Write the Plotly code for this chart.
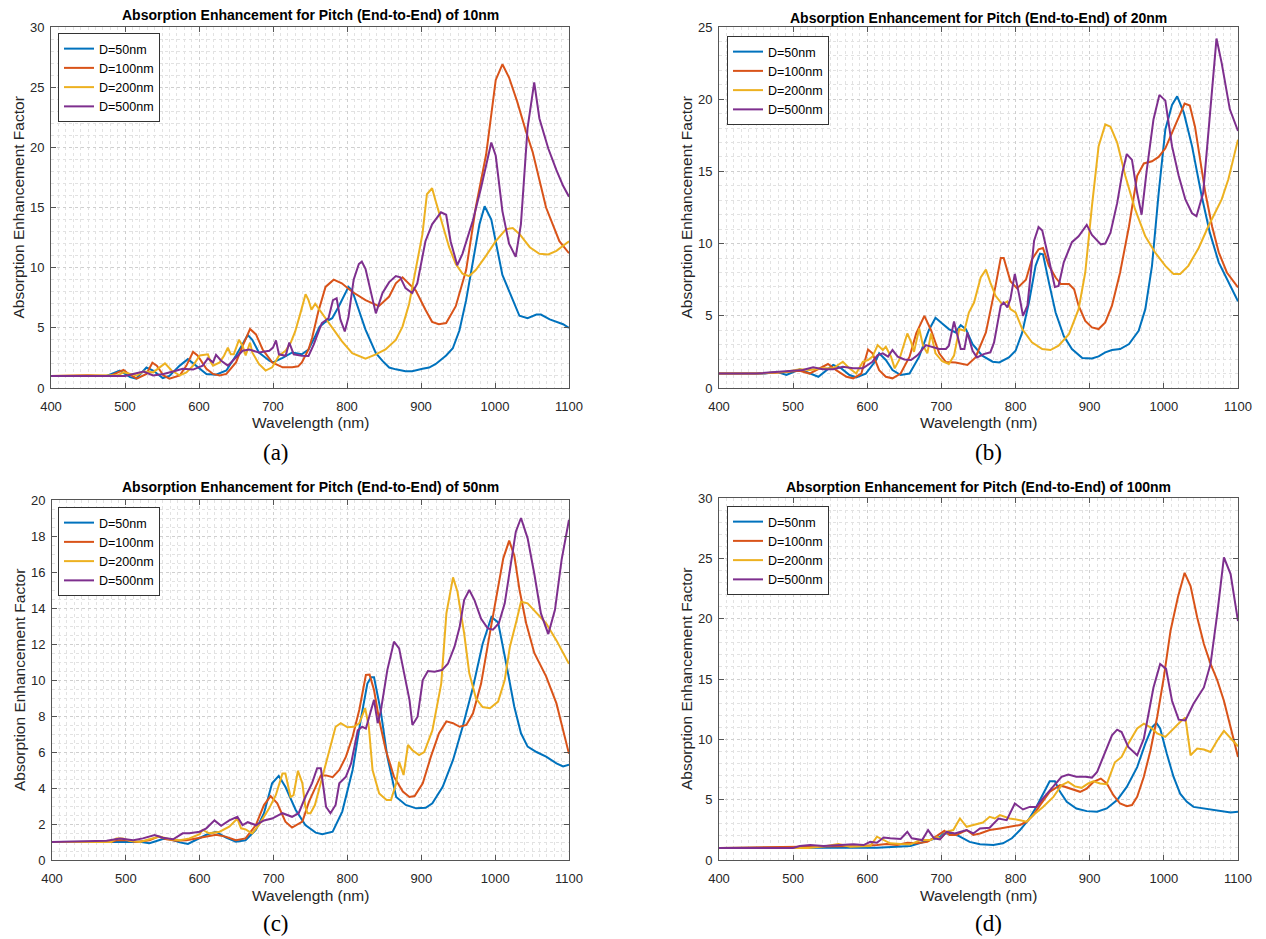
import plotly.graph_objects as go

W, H = 1266, 939

# ---------------- data: (a) pitch 10nm ----------------
A50_WL = [400, 450, 475, 493, 507, 515, 529, 538, 551, 560, 574, 585, 596, 610, 623, 637, 650, 659, 666, 672, 681, 695, 700, 713, 726, 739, 748, 757, 763, 771, 780, 789, 798, 802, 807, 816, 825, 839, 848, 857, 866, 879, 888, 902, 911, 920, 934, 943, 952, 961, 970, 979, 986, 995, 1010, 1024, 1033, 1044, 1056, 1062, 1074, 1092, 1100]
A50_VAL = [1.0, 1.0, 1.0, 1.45, 0.9, 0.77, 1.7, 1.45, 0.82, 1.0, 1.86, 2.4, 1.86, 1.17, 1.1, 1.45, 2.7, 3.6, 4.4, 4.0, 2.95, 2.27, 2.13, 2.5, 2.95, 2.8, 3.2, 4.3, 5.1, 5.5, 5.8, 6.8, 7.9, 8.4, 8.1, 6.5, 4.85, 2.9, 2.25, 1.7, 1.55, 1.4, 1.4, 1.6, 1.7, 2.0, 2.7, 3.3, 4.8, 7.3, 10.3, 13.6, 15.1, 14.0, 9.4, 7.3, 6.0, 5.8, 6.1, 6.1, 5.7, 5.3, 5.0]

A100_WL = [400, 450, 480, 498, 505, 516, 529, 537, 543, 552, 560, 574, 583, 592, 598, 610, 619, 628, 637, 650, 659, 669, 677, 686, 699, 713, 726, 734, 739, 748, 753, 761, 771, 782, 793, 807, 825, 843, 857, 866, 875, 893, 906, 915, 924, 934, 947, 961, 974, 988, 1001, 1010, 1019, 1030, 1042, 1051, 1069, 1087, 1100]
A100_VAL = [1.0, 1.05, 1.0, 1.5, 1.17, 0.77, 1.17, 2.1, 1.86, 1.04, 0.77, 1.04, 1.86, 3.0, 2.7, 1.6, 1.17, 1.04, 1.17, 2.13, 3.5, 4.9, 4.45, 3.2, 2.13, 1.72, 1.72, 1.8, 2.13, 3.2, 4.2, 6.3, 8.4, 9.0, 8.7, 8.0, 7.3, 6.8, 7.6, 8.7, 9.2, 8.1, 6.5, 5.5, 5.3, 5.4, 6.8, 9.8, 15.0, 19.4, 25.6, 26.9, 25.8, 23.8, 21.3, 19.6, 15.0, 12.2, 11.2]

A200_WL = [400, 450, 490, 498, 516, 525, 538, 554, 563, 574, 583, 592, 601, 612, 616, 619, 628, 634, 639, 643, 647, 654, 659, 663, 669, 672, 681, 690, 699, 708, 717, 724, 730, 737, 744, 748, 752, 757, 766, 780, 793, 807, 825, 839, 852, 866, 875, 884, 893, 902, 908, 915, 920, 929, 938, 947, 956, 965, 974, 988, 1001, 1015, 1024, 1033, 1047, 1060, 1072, 1083, 1100]
A200_VAL = [1.0, 1.0, 1.05, 1.3, 1.04, 1.37, 1.3, 2.05, 1.45, 1.04, 1.3, 1.86, 2.7, 2.8, 2.13, 1.86, 2.13, 2.7, 3.36, 2.8, 2.8, 4.0, 3.5, 2.7, 3.77, 2.95, 2.0, 1.45, 1.72, 2.68, 3.1, 3.77, 4.7, 6.2, 7.8, 7.3, 6.5, 7.0, 6.2, 5.0, 3.9, 2.9, 2.44, 2.8, 3.2, 4.0, 5.1, 7.0, 9.8, 12.8, 16.1, 16.6, 15.5, 13.6, 11.7, 10.3, 9.5, 9.3, 9.8, 11.0, 12.2, 13.2, 13.3, 12.8, 11.7, 11.15, 11.1, 11.4, 12.2]

A500_WL = [400, 450, 500, 511, 525, 538, 552, 565, 578, 592, 605, 612, 619, 623, 630, 639, 650, 659, 668, 681, 695, 700, 704, 708, 717, 722, 728, 739, 748, 755, 766, 775, 781, 786, 791, 797, 802, 809, 816, 820, 825, 832, 839, 848, 857, 866, 872, 879, 888, 895, 906, 915, 927, 934, 940, 949, 956, 970, 981, 995, 1001, 1010, 1019, 1028, 1035, 1044, 1053, 1060, 1072, 1083, 1092, 1100]
A500_VAL = [1.0, 1.0, 1.0, 1.17, 1.37, 1.04, 1.17, 1.37, 1.6, 1.53, 1.86, 2.46, 2.13, 2.76, 2.27, 1.86, 2.54, 3.1, 3.2, 2.95, 3.1, 3.36, 3.96, 2.8, 2.68, 3.77, 2.8, 2.68, 2.66, 3.6, 5.4, 5.8, 7.3, 7.45, 5.7, 4.7, 5.9, 9.0, 10.3, 10.5, 9.9, 8.1, 6.2, 7.9, 8.8, 9.3, 9.2, 8.3, 7.9, 8.7, 12.2, 13.6, 14.6, 14.4, 12.2, 10.2, 11.15, 13.9, 16.6, 20.4, 19.3, 14.7, 12.0, 10.9, 13.6, 21.6, 25.4, 22.4, 19.9, 18.1, 16.8, 15.9]

# ---------------- data: (b) pitch 20nm ----------------
B50_WL = [400, 450, 462, 478, 491, 509, 522, 534, 554, 565, 576, 585, 598, 612, 616, 625, 634, 645, 657, 670, 683, 692, 701, 710, 719, 726, 733, 742, 755, 769, 778, 791, 800, 809, 818, 827, 833, 837, 845, 854, 865, 876, 890, 903, 912, 921, 930, 941, 953, 966, 975, 984, 993, 1002, 1011, 1018, 1027, 1038, 1051, 1062, 1074, 1087, 1100]
B50_VAL = [1.0, 1.0, 1.0, 1.13, 0.9, 1.3, 1.0, 0.78, 1.6, 1.36, 0.9, 0.74, 1.0, 1.94, 2.4, 1.94, 1.24, 0.9, 1.0, 2.17, 4.0, 4.86, 4.47, 4.08, 3.85, 4.35, 4.08, 3.04, 2.24, 1.82, 1.77, 2.12, 2.58, 3.85, 5.92, 8.46, 9.3, 9.26, 7.3, 5.23, 3.6, 2.7, 2.07, 2.05, 2.19, 2.47, 2.63, 2.7, 3.04, 3.96, 5.46, 8.46, 13.5, 17.9, 19.6, 20.2, 19.05, 16.75, 13.3, 10.76, 8.7, 7.3, 6.0]

B100_WL = [400, 450, 478, 509, 522, 536, 547, 558, 572, 581, 592, 601, 607, 616, 625, 634, 645, 657, 666, 677, 686, 697, 706, 719, 735, 746, 760, 773, 780, 784, 793, 802, 814, 822, 831, 837, 845, 854, 861, 872, 879, 885, 894, 903, 912, 921, 930, 941, 953, 964, 973, 984, 993, 1002, 1011, 1020, 1028, 1035, 1042, 1049, 1056, 1065, 1074, 1085, 1100]
B100_VAL = [1.0, 1.0, 1.06, 1.2, 1.0, 1.36, 1.66, 1.24, 0.78, 0.67, 1.0, 2.67, 2.4, 1.24, 0.78, 0.67, 1.0, 2.17, 3.78, 5.0, 4.0, 2.4, 1.8, 1.77, 1.6, 2.12, 3.85, 7.07, 9.0, 9.0, 7.4, 6.9, 7.5, 8.9, 9.6, 9.7, 8.46, 7.65, 7.2, 7.2, 6.84, 5.7, 4.65, 4.2, 4.08, 4.54, 5.7, 8.0, 11.2, 14.7, 15.55, 15.7, 16.0, 16.6, 17.7, 18.8, 19.7, 19.56, 18.1, 15.8, 13.5, 11.2, 9.4, 8.0, 6.96]

B200_WL = [400, 450, 491, 509, 522, 540, 554, 567, 576, 585, 594, 601, 607, 614, 621, 625, 632, 637, 643, 648, 654, 659, 663, 670, 675, 681, 686, 692, 701, 710, 717, 724, 731, 737, 744, 753, 760, 766, 773, 782, 789, 793, 800, 809, 822, 836, 847, 858, 872, 885, 894, 903, 912, 921, 928, 937, 948, 961, 975, 988, 1002, 1013, 1022, 1033, 1047, 1060, 1078, 1087, 1100]
B200_VAL = [1.0, 1.0, 1.13, 1.3, 1.24, 1.36, 1.36, 1.82, 1.36, 1.0, 1.82, 1.94, 2.17, 2.97, 2.63, 2.86, 2.17, 1.36, 1.94, 2.86, 3.78, 3.2, 2.5, 4.12, 2.97, 2.4, 3.78, 2.4, 1.85, 1.66, 2.24, 4.08, 3.96, 5.23, 5.92, 7.65, 8.2, 7.3, 6.38, 5.8, 6.0, 5.46, 5.23, 4.08, 3.16, 2.7, 2.63, 2.93, 3.73, 5.46, 8.0, 12.6, 16.75, 18.25, 18.1, 17.0, 14.7, 12.4, 10.5, 9.4, 8.46, 7.9, 7.9, 8.46, 9.7, 11.2, 13.06, 14.45, 17.2]

B500_WL = [400, 450, 513, 527, 540, 554, 567, 581, 594, 607, 614, 621, 628, 634, 641, 650, 659, 668, 679, 686, 697, 706, 710, 717, 722, 726, 731, 735, 742, 748, 757, 766, 771, 780, 784, 789, 793, 799, 805, 810, 816, 825, 831, 836, 845, 853, 858, 865, 876, 885, 896, 903, 915, 921, 928, 937, 944, 950, 957, 964, 970, 977, 986, 994, 1002, 1011, 1020, 1029, 1038, 1044, 1053, 1062, 1071, 1078, 1089, 1100]
B500_VAL = [1.0, 1.0, 1.24, 1.43, 1.3, 1.3, 1.47, 1.36, 1.36, 1.82, 2.28, 2.4, 2.17, 2.63, 2.17, 1.98, 1.94, 2.28, 2.97, 2.86, 2.7, 2.7, 2.93, 4.6, 3.6, 2.7, 2.7, 3.85, 2.58, 2.12, 2.35, 2.47, 3.16, 5.7, 5.92, 5.58, 6.15, 7.9, 6.4, 5.0, 5.7, 10.2, 11.15, 10.9, 8.9, 7.0, 7.07, 8.7, 10.1, 10.5, 11.3, 10.6, 9.95, 10.0, 10.76, 12.8, 14.9, 16.2, 15.8, 13.5, 12.0, 15.1, 18.6, 20.3, 19.9, 16.75, 14.7, 13.06, 12.1, 11.9, 13.5, 18.6, 24.2, 22.5, 19.3, 17.8]

# ---------------- data: (c) pitch 50nm ----------------
C50_WL = [400, 500, 519, 532, 550, 559, 573, 584, 595, 609, 622, 635, 649, 662, 676, 687, 698, 707, 716, 730, 743, 757, 766, 780, 793, 807, 818, 827, 832, 836, 845, 854, 866, 879, 893, 906, 915, 929, 943, 956, 970, 983, 995, 1004, 1015, 1026, 1035, 1044, 1056, 1069, 1083, 1092, 1100]
C50_VAL = [1.0, 1.0, 1.02, 0.93, 1.17, 1.17, 0.98, 0.89, 1.1, 1.4, 1.57, 1.26, 1.02, 1.1, 1.67, 2.6, 4.26, 4.67, 4.07, 2.78, 1.94, 1.52, 1.43, 1.57, 2.69, 5.0, 7.78, 9.8, 10.15, 10.15, 8.3, 5.74, 3.5, 3.06, 2.87, 2.9, 3.15, 4.07, 5.56, 7.4, 9.6, 12.0, 13.5, 13.2, 10.9, 8.5, 7.04, 6.3, 6.0, 5.74, 5.37, 5.2, 5.3]

C100_WL = [400, 480, 487, 501, 514, 532, 544, 555, 568, 582, 595, 609, 622, 635, 649, 662, 676, 687, 696, 705, 716, 725, 734, 739, 748, 757, 764, 771, 780, 789, 798, 807, 816, 825, 830, 836, 843, 852, 863, 875, 884, 891, 902, 913, 924, 934, 943, 952, 961, 970, 981, 992, 1004, 1011, 1019, 1026, 1033, 1042, 1053, 1069, 1083, 1092, 1100]
C100_VAL = [1.0, 1.0, 1.1, 1.1, 1.0, 1.1, 1.3, 1.15, 1.07, 1.1, 1.2, 1.3, 1.4, 1.3, 1.1, 1.2, 1.94, 3.05, 3.55, 3.15, 2.13, 1.8, 2.0, 2.13, 3.24, 4.07, 4.7, 4.7, 4.6, 5.0, 5.74, 6.85, 8.33, 10.28, 10.3, 9.44, 7.78, 6.1, 4.63, 3.8, 3.5, 3.55, 4.26, 5.74, 7.04, 7.7, 7.6, 7.4, 7.5, 8.15, 9.8, 12.4, 15.2, 16.76, 17.74, 16.9, 15.0, 13.15, 11.5, 10.2, 8.7, 7.2, 5.9]

C200_WL = [400, 480, 487, 496, 505, 519, 532, 546, 559, 573, 586, 600, 604, 613, 627, 640, 651, 656, 662, 671, 680, 694, 703, 712, 716, 723, 727, 733, 739, 743, 746, 750, 756, 764, 775, 784, 791, 800, 809, 816, 824, 829, 834, 843, 853, 859, 866, 870, 876, 882, 888, 897, 904, 915, 927, 934, 943, 949, 958, 965, 974, 983, 993, 1004, 1013, 1020, 1029, 1035, 1044, 1056, 1069, 1083, 1100]
C200_VAL = [1.0, 1.0, 1.19, 1.2, 1.07, 1.0, 1.15, 1.3, 1.15, 1.1, 1.2, 1.44, 1.67, 1.48, 1.57, 1.85, 2.3, 1.76, 1.7, 1.48, 1.94, 2.87, 3.6, 4.8, 4.8, 3.5, 3.6, 4.96, 4.26, 2.96, 2.6, 2.6, 3.05, 4.26, 5.9, 7.4, 7.6, 7.37, 7.4, 7.6, 8.43, 7.4, 5.0, 3.7, 3.33, 3.33, 4.26, 5.46, 4.72, 6.39, 6.1, 5.83, 6.0, 7.2, 9.8, 13.7, 15.7, 14.9, 12.6, 10.37, 8.98, 8.5, 8.43, 8.8, 10.0, 11.85, 13.3, 14.35, 14.26, 13.7, 13.15, 12.2, 10.9]

C500_WL = [400, 474, 492, 510, 523, 539, 550, 564, 577, 586, 600, 609, 620, 629, 640, 651, 658, 665, 676, 687, 698, 712, 725, 734, 743, 752, 759, 764, 771, 777, 784, 789, 798, 805, 814, 820, 825, 832, 836, 841, 845, 854, 863, 870, 877, 884, 888, 895, 902, 909, 918, 928, 936, 945, 952, 958, 965, 972, 981, 990, 997, 1005, 1013, 1020, 1028, 1035, 1044, 1053, 1062, 1072, 1081, 1090, 1100]
C500_VAL = [1.0, 1.07, 1.19, 1.1, 1.2, 1.39, 1.24, 1.15, 1.48, 1.48, 1.57, 1.76, 2.2, 1.9, 2.2, 2.4, 1.94, 2.1, 1.94, 2.2, 2.3, 2.6, 2.4, 2.6, 3.5, 4.26, 5.1, 5.1, 2.96, 2.6, 3.06, 4.26, 4.63, 5.37, 7.2, 7.4, 7.3, 8.33, 8.9, 7.6, 8.24, 10.55, 12.13, 11.76, 10.37, 8.9, 7.5, 7.96, 10.0, 10.5, 10.46, 10.55, 10.9, 11.85, 12.96, 14.44, 15.0, 14.44, 13.4, 12.87, 12.8, 13.15, 14.26, 16.1, 18.24, 19.0, 17.87, 15.9, 13.7, 12.55, 13.9, 16.67, 18.9]

# ---------------- data: (d) pitch 100nm ----------------
D50_WL = [400, 500, 523, 613, 658, 676, 690, 698, 703, 707, 716, 725, 738, 752, 770, 783, 795, 806, 817, 828, 840, 846, 853, 860, 869, 882, 896, 910, 923, 937, 950, 964, 975, 984, 990, 995, 1004, 1013, 1022, 1031, 1040, 1054, 1067, 1081, 1090, 1100]
D50_VAL = [1.0, 1.0, 1.02, 1.02, 1.16, 1.5, 1.8, 1.9, 2.2, 2.2, 2.2, 1.93, 1.5, 1.3, 1.24, 1.38, 1.8, 2.48, 3.3, 4.4, 5.8, 6.53, 6.53, 5.65, 4.82, 4.27, 4.05, 4.0, 4.27, 4.96, 6.06, 7.7, 9.64, 11.0, 11.35, 10.9, 8.8, 6.9, 5.5, 4.82, 4.4, 4.27, 4.19, 4.0, 3.94, 4.0]

D100_WL = [400, 540, 568, 590, 613, 626, 640, 654, 667, 681, 694, 704, 711, 720, 734, 743, 752, 765, 779, 792, 806, 815, 824, 833, 846, 860, 873, 887, 896, 905, 915, 923, 932, 941, 950, 957, 964, 973, 982, 991, 1000, 1009, 1019, 1028, 1036, 1045, 1054, 1063, 1072, 1081, 1090, 1100]
D100_VAL = [1.0, 1.1, 1.16, 1.16, 1.24, 1.32, 1.24, 1.43, 1.38, 1.5, 2.0, 2.42, 2.07, 2.07, 2.48, 2.07, 2.2, 2.48, 2.62, 2.75, 2.9, 3.17, 3.72, 4.55, 5.65, 6.2, 5.92, 5.65, 5.92, 6.47, 6.75, 6.34, 5.37, 4.68, 4.46, 4.55, 5.23, 6.9, 9.1, 11.85, 15.15, 19.0, 21.8, 23.8, 22.7, 20.1, 17.9, 16.25, 14.9, 13.2, 11.0, 8.54]

D200_WL = [400, 520, 545, 561, 577, 604, 613, 622, 631, 645, 658, 672, 685, 694, 698, 707, 716, 725, 734, 743, 756, 765, 772, 779, 792, 806, 815, 824, 837, 851, 862, 871, 880, 889, 898, 905, 914, 923, 934, 943, 952, 964, 973, 982, 991, 1002, 1013, 1022, 1029, 1036, 1045, 1054, 1063, 1072, 1081, 1090, 1100]
D200_VAL = [1.0, 1.0, 1.16, 1.32, 1.1, 1.16, 1.93, 1.65, 1.38, 1.32, 1.3, 1.65, 1.65, 1.9, 1.75, 2.34, 2.48, 3.44, 2.75, 2.9, 3.1, 3.58, 3.44, 3.72, 3.44, 3.3, 3.17, 3.72, 4.4, 5.23, 6.2, 6.47, 6.1, 5.98, 6.34, 6.53, 6.34, 6.28, 8.1, 8.54, 9.64, 10.9, 11.3, 11.0, 10.5, 10.2, 10.9, 11.43, 11.8, 8.68, 9.23, 9.15, 8.95, 9.9, 10.7, 10.05, 9.42]

D500_WL = [400, 500, 509, 523, 541, 559, 581, 595, 604, 613, 622, 631, 645, 654, 660, 674, 682, 690, 698, 707, 718, 734, 743, 752, 765, 777, 788, 799, 810, 819, 828, 837, 851, 862, 871, 882, 894, 903, 910, 921, 930, 937, 943, 952, 964, 973, 986, 995, 1003, 1011, 1020, 1029, 1040, 1054, 1063, 1072, 1081, 1090, 1100]
D500_VAL = [1.0, 1.0, 1.16, 1.24, 1.16, 1.24, 1.3, 1.24, 1.5, 1.43, 1.87, 1.8, 1.74, 2.34, 1.8, 1.65, 2.48, 1.8, 1.7, 2.34, 2.2, 2.48, 2.2, 2.62, 2.67, 3.44, 3.3, 4.68, 4.19, 4.4, 4.4, 5.1, 6.06, 6.9, 7.08, 6.9, 6.9, 6.83, 7.3, 8.95, 10.33, 10.8, 10.6, 9.37, 8.68, 10.05, 14.3, 16.25, 15.84, 13.2, 11.63, 11.57, 12.95, 14.3, 16.25, 20.4, 25.07, 23.7, 19.8]

LABELS = ["D=50nm", "D=100nm", "D=200nm", "D=500nm"]
COLORS = ["#0072BD", "#D95319", "#EDB120", "#7E2F8E"]
PITCHES = ["10nm", "20nm", "50nm", "100nm"]
CAPTIONS = ["(a)", "(b)", "(c)", "(d)"]
Y_MAX = [30, 25, 20, 30]
Y_DTICK = [5, 5, 2, 5]
Y_MINOR = [1, 1, 0.5, 1]

PANELS = [
    [(A50_WL, A50_VAL), (A100_WL, A100_VAL), (A200_WL, A200_VAL), (A500_WL, A500_VAL)],
    [(B50_WL, B50_VAL), (B100_WL, B100_VAL), (B200_WL, B200_VAL), (B500_WL, B500_VAL)],
    [(C50_WL, C50_VAL), (C100_WL, C100_VAL), (C200_WL, C200_VAL), (C500_WL, C500_VAL)],
    [(D50_WL, D50_VAL), (D100_WL, D100_VAL), (D200_WL, D200_VAL), (D500_WL, D500_VAL)],
]

# pixel geometry of the four plot areas: (left, right, top, bottom)
BOXES = [(51, 569, 27, 388), (719, 1238, 27, 388), (52, 569, 500, 860), (719, 1238, 498, 860)]
LEGEND_POS = [(58, 33), (727, 36), (58, 507), (727, 506)]
TITLE_Y = [15, 18, 487, 487]
CAPTION_POS = [(276, 452), (988, 452), (276, 923), (988, 923)]

FONT = "Liberation Sans, Arial, Helvetica, sans-serif"
AXC = "#262626"
GRIDC = "#cfcfcf"
MINORC = "#e2e2e2"

fig = go.Figure()
layout = dict(
    width=W, height=H,
    margin=dict(l=0, r=0, t=0, b=0, autoexpand=False),
    paper_bgcolor="white", plot_bgcolor="white",
    font=dict(family=FONT, color=AXC, size=13),
    annotations=[],
)

for i, series in enumerate(PANELS):
    n = "" if i == 0 else str(i + 1)
    xa, ya = "x" + n, "y" + n
    leg = "legend" + n
    for (wl, val), lab, col in zip(series, LABELS, COLORS):
        fig.add_trace(go.Scatter(x=wl, y=val, mode="lines", name=lab,
                                 line=dict(color=col, width=2),
                                 xaxis=xa, yaxis=ya, legend=leg))
    l, r, t, b = BOXES[i]
    common = dict(showline=True, linecolor="#555555", linewidth=1, mirror="ticks",
                  ticks="inside", ticklen=5, tickcolor="#555555", tickwidth=1,
                  showgrid=True, gridcolor=GRIDC, griddash="dot", gridwidth=1,
                  zeroline=False, automargin=False,
                  tickfont=dict(size=13, color=AXC, family=FONT))
    layout["xaxis" + n] = dict(domain=[l / W, r / W], anchor=ya, range=[400, 1100],
                               tick0=400, dtick=100, ticklabelstandoff=6,
                               minor=dict(dtick=10, showgrid=True, gridcolor=MINORC, griddash="dot", ticks=""),
                               **common)
    layout["yaxis" + n] = dict(domain=[1 - b / H, 1 - t / H], anchor=xa, range=[0, Y_MAX[i]],
                               tick0=0, dtick=Y_DTICK[i], ticklabelstandoff=3,
                               minor=dict(dtick=Y_MINOR[i], showgrid=True, gridcolor=MINORC, griddash="dot", ticks=""),
                               **common)
    lx, ly = LEGEND_POS[i]
    layout[leg] = dict(x=lx / W, y=1 - ly / H, xanchor="left", yanchor="top",
                       bgcolor="white", bordercolor="#333333", borderwidth=1,
                       font=dict(size=12.5, color="black", family=FONT),
                       itemwidth=30, tracegroupgap=0)
    cx = (l + r) / 2
    cy = (t + b) / 2
    layout["annotations"] += [
        dict(text="<b>Absorption Enhancement for Pitch (End-to-End) of %s</b>" % PITCHES[i],
             x=cx / W, y=1 - TITLE_Y[i] / H, xref="paper", yref="paper",
             xanchor="center", yanchor="middle", showarrow=False,
             font=dict(size=14, color="black", family=FONT)),
        dict(text="Wavelength (nm)", x=cx / W, y=1 - (b + 35) / H, xref="paper", yref="paper",
             xanchor="center", yanchor="middle", showarrow=False,
             font=dict(size=15.5, color=AXC, family=FONT)),
        dict(text="Absorption Enhancement Factor", x=(l - 33) / W, y=1 - cy / H,
             xref="paper", yref="paper", xanchor="center", yanchor="middle",
             textangle=-90, showarrow=False, font=dict(size=15.5, color=AXC, family=FONT)),
        dict(text=CAPTIONS[i], x=CAPTION_POS[i][0] / W, y=1 - CAPTION_POS[i][1] / H,
             xref="paper", yref="paper", xanchor="center", yanchor="middle", showarrow=False,
             font=dict(size=23, color="black", family="Liberation Serif, Times New Roman, serif")),
    ]

fig.update_layout(**layout)
fig.write_html("out.html")
